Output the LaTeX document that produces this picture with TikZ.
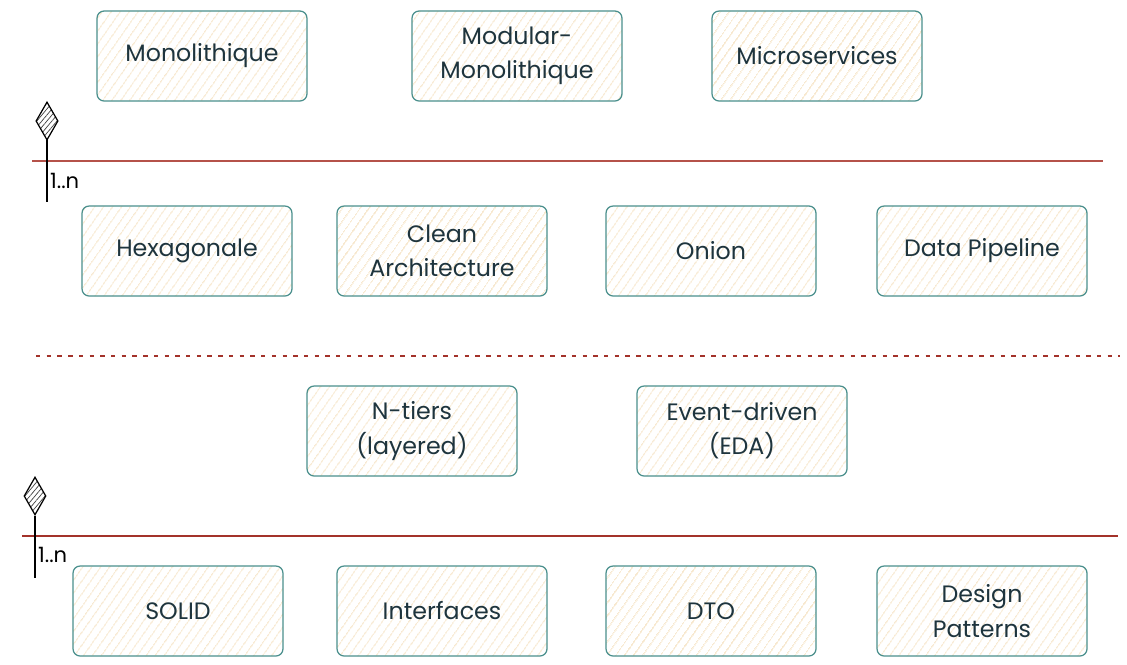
\documentclass[tikz,border=0pt]{standalone}
\usepackage{fontspec}
\setmainfont{Poppins}
\usetikzlibrary{positioning, shapes.geometric, patterns.meta}
\definecolor{boxline}{HTML}{4A8F8C}
\definecolor{hatch}{HTML}{F3DCB6}
\definecolor{ink}{HTML}{1E343D}
\definecolor{sep}{HTML}{B5524A}
\definecolor{dots}{HTML}{A3322A}

\tikzset{
    comp/.style={draw=boxline, line width=0.7pt, rounded corners=4pt,
        minimum width=4.2cm, minimum height=1.8cm, align=center,
        text=ink, font=\fontsize{13.5}{19.5}\selectfont,
        pattern={Lines[angle=55,distance=4pt,line width=0.5pt]}, pattern color=hatch},
    agg/.style={draw=black, line width=0.7pt, shape=diamond, aspect=0.6,
        minimum width=0.44cm, minimum height=0.76cm, inner sep=0pt,
        pattern={Lines[angle=50,distance=2.2pt,line width=0.4pt]}, pattern color=black!75},
    card/.style={font=\fontsize{12}{14}\selectfont, inner sep=1pt, anchor=west},
}

\begin{document}
\begin{tikzpicture}[x=0.02cm, y=-0.02cm]
    \useasboundingbox (0,0) rectangle (1127,664);

    % couche deploiement
    \node[comp] (mono) at (202,56) {Monolithique};
    \node[comp] (modmono) at (517,56) {Modular-\\Monolithique};
    \node[comp] (micro) at (817,56) {Microservices};

    \coordinate (s1a) at (32,161);
    \coordinate (s1b) at (1103,161);
    \draw[sep, line width=0.8pt] (s1a) -- (s1b);

    \node[agg] (dia1) at (47,121) {};
    \coordinate (t1) at (47,202);
    \draw[line width=0.7pt] (dia1.south) -- (t1);
    \node[card] (c1) at (48,181) {1..n};

    % architecture
    \node[comp] (hexa) at (187,251) {Hexagonale};
    \node[comp] (clean) at (442,251) {Clean\\Architecture};
    \node[comp] (onion) at (711,251) {Onion};
    \node[comp] (pipe) at (982,251) {Data Pipeline};

    \coordinate (s2a) at (36,356);
    \coordinate (s2b) at (1120,356);
    \draw[dots, line width=1.6pt, dash pattern=on 2.5pt off 3.6pt] (s2a) -- (s2b);

    \node[comp] (ntiers) at (412,431) {N-tiers\\(layered)};
    \node[comp] (eda) at (742,431) {Event-driven\\(EDA)};

    \coordinate (s3a) at (22,536);
    \coordinate (s3b) at (1118,536);
    \draw[dots, line width=0.9pt] (s3a) -- (s3b);

    \node[agg] (dia2) at (35,496) {};
    \coordinate (t2) at (35,578);
    \draw[line width=0.7pt] (dia2.south) -- (t2);
    \node[card] (c2) at (36,555) {1..n};

    % principes
    \node[comp] (solid) at (178,611) {SOLID};
    \node[comp] (itf) at (442,611) {Interfaces};
    \node[comp] (dto) at (711,611) {DTO};
    \node[comp] (dp) at (982,611) {Design\\Patterns};
\end{tikzpicture}
\end{document}
